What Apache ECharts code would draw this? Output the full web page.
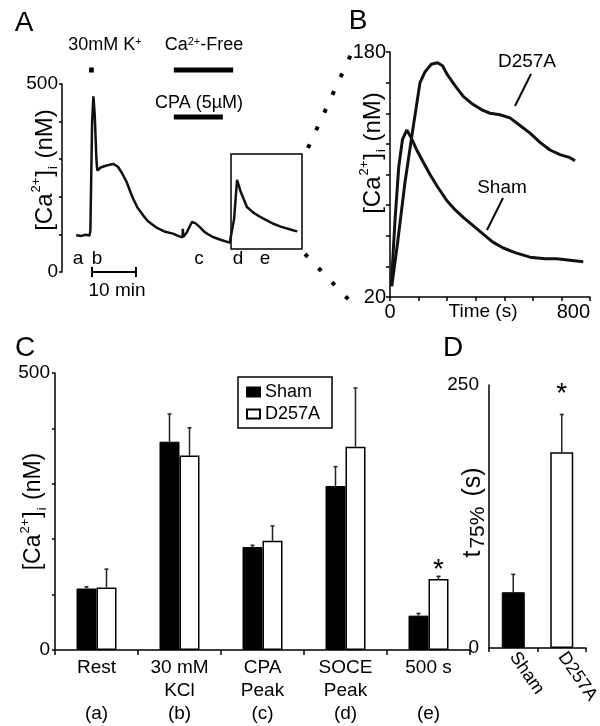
<!DOCTYPE html>
<html lang="en">
<head>
<meta charset="UTF-8">
<title>[Ca2+]i in Sham and D257A cells</title>
<style>
  body { margin: 0; background: #fff; }
  #chart { width: 600px; height: 726px; }
</style>
<script src="https://cdn.jsdelivr.net/npm/echarts@6/dist/echarts.min.js"></script>
</head>
<body>
<div id="chart"></div>
<script>
// Panel A: representative trace (time in min, [Ca2+]i in nM)
var traceTime = [3.3, 4.5, 5.5, 6.4, 6.6, 7.0, 7.3, 7.6, 8.0, 8.2, 9, 10, 11, 12, 13, 14, 15, 16, 16.5, 17.5,
                 18.9, 20, 22, 24, 25.8, 27, 28, 28.1, 28.2, 29, 30.2, 31, 32, 33, 34, 35.1, 37, 39, 39.3, 40,
                 40.7, 41.5, 43, 44.5, 46, 47.5, 49, 51, 53.7, 54.7];
var traceCa = [98, 96, 99, 97, 110, 400, 467, 420, 300, 270, 278, 282, 285, 287, 280, 262, 240, 210, 196, 172,
               150, 135, 118, 107, 102, 96, 92, 115, 93, 105, 133, 130, 120, 108, 100, 93, 85, 78, 76, 140,
               245, 215, 173, 158, 147, 138, 129, 120, 111, 108];
// treatment periods (min)
var kPeriod = [6.3, 7.4];
var caFreePeriod = [26.0, 39.8];
var cpaPeriod = [26.0, 37.4];
// zoomed region shown in B
var boxTime = [39.3, 55.8];
var boxCa = [61, 314];

// Panel B: SOCE decay (time in s, nM)
var d257T = [7, 30, 60, 90, 120, 140, 165, 190, 210, 230, 260, 293, 330, 370, 400, 440, 480, 520, 560, 600, 640, 680, 720, 740];
var d257Ca = [27, 55, 95, 128, 160, 167, 172, 173, 171, 165, 158, 151, 146, 142, 140, 139, 137, 132, 127, 121, 116, 113, 111, 109];
var shamT = [5, 20, 35, 50, 67, 85, 107, 130, 160, 190, 227, 260, 293, 330, 373, 410, 453, 500, 560, 620, 667, 720, 773];
var shamCa = [27, 70, 105, 123, 129, 124, 116, 109, 100, 92, 83, 77, 72, 67, 61, 56, 52, 49, 46, 45, 45, 44, 43];

// Panel C: mean [Ca2+]i (nM) with SEM
var catC = ['Rest', '30 mM\nKCl', 'CPA\nPeak', 'SOCE\nPeak', '500 s'];
var stepC = ['(a)', '(b)', '(c)', '(d)', '(e)'];
var shamC = [111, 376, 186, 296, 62];
var shamErrC = [3, 50, 3, 35, 4];
var d257C = [113, 351, 197, 367, 128];
var d257ErrC = [33, 50, 27, 106, 5];
var starC = [false, false, false, false, true];

// Panel D: t75% (s)
var catD = ['Sham', 'D257A'];
var t75 = [53, 186];
var t75Err = [17, 36];
var starD = [false, true];

var FONT = '"Liberation Sans", Arial, sans-serif';
var chart = echarts.init(document.getElementById('chart'));

var caRich = {
  sup: { fontSize: 13, verticalAlign: 'top', lineHeight: 13, padding: [0, 1, 0, 1], fontFamily: FONT },
  sub: { fontSize: 13, verticalAlign: 'bottom', lineHeight: 13, padding: [0, 1, 0, 1], fontFamily: FONT }
};
var caName = '[Ca{sup|2+}]{sub|i} (nM)';

function axisLine() { return { show: true, lineStyle: { color: '#000', width: 1.5 } }; }
function axisTick(len) { return { show: true, length: len, lineStyle: { color: '#000', width: 1.5 } }; }
function onlyEnds(lo, hi) {
  return function (v) { return (Math.abs(v - lo) < 1 || Math.abs(v - hi) < 1) ? String(Math.round(v)) : ''; };
}

function errorSeries(name, xi, yi, vals, errs, offset, stars, starGap) {
  return {
    name: name, type: 'custom', xAxisIndex: xi, yAxisIndex: yi, silent: true, z: 3,
    data: vals.map(function (v, i) { return [i, v, errs[i]]; }),
    renderItem: function (params, api) {
      var base = api.coord([api.value(0), api.value(1)]);
      var top = api.coord([api.value(0), api.value(1) + api.value(2)]);
      var x = base[0] + offset;
      var kids = [
        { type: 'line', shape: { x1: x, y1: base[1], x2: x, y2: top[1] }, style: { stroke: '#222', lineWidth: 1.5 } },
        { type: 'line', shape: { x1: x - 2, y1: top[1], x2: x + 2, y2: top[1] }, style: { stroke: '#222', lineWidth: 1.5 } }
      ];
      if (stars[params.dataIndex]) {
        kids.push({ type: 'text', x: x, y: top[1] - starGap,
          style: { text: '*', fontSize: 28, fontFamily: FONT, fill: '#000', align: 'center', verticalAlign: 'middle' } });
      }
      return { type: 'group', children: kids };
    }
  };
}

function txt(x, y, s, size, extra) {
  var st = { text: s, fontSize: size, fontFamily: FONT, fill: '#000', align: 'center', verticalAlign: 'middle' };
  if (extra) for (var k in extra) st[k] = extra[k];
  return { type: 'text', x: x, y: y, style: st, silent: true };
}
function seg(x1, y1, x2, y2, w, dash) {
  var st = { stroke: '#000', lineWidth: w };
  if (dash) st.lineDash = dash;
  return { type: 'line', shape: { x1: x1, y1: y1, x2: x2, y2: y2 }, style: st, silent: true };
}

var supRich = { sup: { fontSize: 11, verticalAlign: 'top', lineHeight: 11, fontFamily: FONT } };

var option = {
  animation: false,
  backgroundColor: '#fff',
  textStyle: { fontFamily: FONT, color: '#000' },
  grid: [
    { left: 62, top: 84, width: 243, height: 188, outerBoundsMode: 'none' },
    { left: 390, top: 52, width: 200, height: 245, outerBoundsMode: 'none' },
    { left: 55, top: 373, width: 415, height: 277, outerBoundsMode: 'none' },
    { left: 489, top: 385, width: 97, height: 263, outerBoundsMode: 'none' }
  ],
  legend: {
    data: ['Sham', 'D257A'],
    orient: 'vertical', left: 238, top: 377,
    borderColor: '#000', borderWidth: 1.5, padding: [6, 12, 5, 8], itemGap: 4,
    itemWidth: 13, itemHeight: 9, icon: 'rect',
    textStyle: { fontSize: 18, color: '#000', fontFamily: FONT }
  },
  xAxis: [
    { gridIndex: 0, type: 'value', min: 0, max: 56.5, show: false },
    { gridIndex: 1, type: 'value', min: 0, max: 800, interval: 800 / 7,
      axisLine: axisLine(), axisTick: axisTick(4), splitLine: { show: false },
      axisLabel: { color: '#000', fontSize: 20, margin: 5, alignMaxLabel: 'right', formatter: onlyEnds(0, 800) },
      name: 'Time (s)', nameLocation: 'middle', nameGap: 5, nameMoveOverlap: false,
      nameTextStyle: { fontSize: 19, color: '#000', verticalAlign: 'top', padding: [0, 14, 0, 0] } },
    { gridIndex: 2, type: 'category', data: catC,
      axisLine: axisLine(), axisTick: { show: true, alignWithLabel: false, length: 5, lineStyle: { color: '#000', width: 1.5 } },
      axisLabel: { color: '#000', fontSize: 19, lineHeight: 23, margin: 6, interval: 0 } },
    { gridIndex: 2, type: 'category', data: stepC, position: 'bottom', offset: 48,
      axisLine: { show: false }, axisTick: { show: false },
      axisLabel: { color: '#000', fontSize: 19, interval: 0, margin: 6 } },
    { gridIndex: 3, type: 'category', data: catD,
      axisLine: axisLine(), axisTick: { show: true, alignWithLabel: false, length: 4, lineStyle: { color: '#000', width: 1.5 } },
      axisLabel: { color: '#000', fontSize: 18, rotate: -55, margin: 6, interval: 0 } }
  ],
  yAxis: [
    { gridIndex: 0, type: 'value', min: 0, max: 500, interval: 100,
      axisLine: axisLine(), axisTick: axisTick(3), splitLine: { show: false },
      axisLabel: { color: '#000', fontSize: 19, margin: 4, formatter: onlyEnds(0, 500) },
      name: caName, nameLocation: 'middle', nameRotate: 90, nameGap: 2, nameMoveOverlap: false,
      nameTextStyle: { fontSize: 24, lineHeight: 30, color: '#000', padding: [0, 0, 0, 16], rich: caRich } },
    { gridIndex: 1, type: 'value', min: 20, max: 180, interval: 20,
      axisLine: axisLine(), axisTick: axisTick(4), splitLine: { show: false },
      axisLabel: { color: '#000', fontSize: 20, margin: 4, formatter: onlyEnds(20, 180) },
      name: caName, nameLocation: 'middle', nameRotate: 90, nameGap: 2, nameMoveOverlap: false,
      nameTextStyle: { fontSize: 24, lineHeight: 30, color: '#000', padding: [0, 0, 0, 43], rich: caRich } },
    { gridIndex: 2, type: 'value', min: 0, max: 500, interval: 100,
      axisLine: axisLine(), axisTick: axisTick(3), splitLine: { show: false },
      axisLabel: { color: '#000', fontSize: 19, margin: 5, formatter: onlyEnds(0, 500) },
      name: caName, nameLocation: 'middle', nameRotate: 90, nameGap: 6, nameMoveOverlap: false,
      nameTextStyle: { fontSize: 23, lineHeight: 30, color: '#000', rich: caRich } },
    { gridIndex: 3, type: 'value', min: 0, max: 250, interval: 250,
      axisLine: axisLine(), axisTick: { show: false }, splitLine: { show: false },
      axisLabel: { color: '#000', fontSize: 19, margin: 10 },
      name: 't{sub|75%} (s)', nameLocation: 'middle', nameRotate: 90, nameGap: 0, nameMoveOverlap: false,
      nameTextStyle: { fontSize: 25, lineHeight: 32, color: '#000', padding: [0, 0, 0, 8],
        rich: { sub: { fontSize: 21, verticalAlign: 'bottom', lineHeight: 20, padding: [0, 3, 0, 2], fontFamily: FONT } } } }
  ],
  series: [
    // A: trace + zoom box
    { name: 'trace', type: 'line', xAxisIndex: 0, yAxisIndex: 0, symbol: 'none', silent: true,
      data: traceTime.map(function (t, i) { return [t, traceCa[i]]; }),
      lineStyle: { color: '#111', width: 2.5 },
      markArea: { silent: true, itemStyle: { color: 'rgba(0,0,0,0)', borderColor: '#000', borderWidth: 1.5 },
        data: [[{ coord: [boxTime[0], boxCa[0]] }, { coord: [boxTime[1], boxCa[1]] }]] } },
    // A: treatment bars
    { name: 'K', type: 'line', xAxisIndex: 0, yAxisIndex: 0, symbol: 'none', silent: true, clip: false,
      data: [[kPeriod[0], 537], [kPeriod[1], 537]], lineStyle: { color: '#000', width: 5 } },
    { name: 'CaFree', type: 'line', xAxisIndex: 0, yAxisIndex: 0, symbol: 'none', silent: true, clip: false,
      data: [[caFreePeriod[0], 537], [caFreePeriod[1], 537]], lineStyle: { color: '#000', width: 5 } },
    { name: 'CPA', type: 'line', xAxisIndex: 0, yAxisIndex: 0, symbol: 'none', silent: true, clip: false,
      data: [[cpaPeriod[0], 412], [cpaPeriod[1], 412]], lineStyle: { color: '#000', width: 5 } },
    // B
    { name: 'D257A trace', type: 'line', xAxisIndex: 1, yAxisIndex: 1, symbol: 'none', silent: true,
      data: d257T.map(function (t, i) { return [t, d257Ca[i]]; }), lineStyle: { color: '#111', width: 3 } },
    { name: 'Sham trace', type: 'line', xAxisIndex: 1, yAxisIndex: 1, symbol: 'none', silent: true,
      data: shamT.map(function (t, i) { return [t, shamCa[i]]; }), lineStyle: { color: '#111', width: 3 } },
    // C
    { name: 'Sham', type: 'bar', xAxisIndex: 2, yAxisIndex: 2, data: shamC, barWidth: 20, barGap: '0%',
      itemStyle: { color: '#000', borderColor: '#000', borderWidth: 1 } },
    { name: 'D257A', type: 'bar', xAxisIndex: 2, yAxisIndex: 2, data: d257C, barWidth: 20, barGap: '0%',
      itemStyle: { color: '#fff', borderColor: '#000', borderWidth: 1.5 } },
    errorSeries('Sham err', 2, 2, shamC, shamErrC, -10, [false, false, false, false, false], 0),
    errorSeries('D257A err', 2, 2, d257C, d257ErrC, 10, starC, 6),
    // D
    { name: 't75', type: 'bar', xAxisIndex: 4, yAxisIndex: 3, barWidth: 23,
      data: t75.map(function (v, i) {
        return { value: v, itemStyle: i === 0 ? { color: '#000', borderColor: '#000', borderWidth: 1 }
                                              : { color: '#fff', borderColor: '#000', borderWidth: 1.5 } };
      }) },
    errorSeries('t75 err', 4, 3, t75, t75Err, 0, starD, 20)
  ],
  graphic: [
    txt(24, 23, 'A', 28), txt(358, 21, 'B', 28), txt(25, 348, 'C', 28), txt(453, 348, 'D', 28),
    txt(105, 45, '30mM K{sup|+}', 18, { rich: supRich }),
    txt(204, 45, 'Ca{sup|2+}-Free', 18, { rich: supRich }),
    txt(199, 103, 'CPA (5\u00b5M)', 18),
    txt(78, 259, 'a', 19), txt(97, 259, 'b', 19), txt(199, 259, 'c', 19), txt(238, 259, 'd', 19), txt(265, 259, 'e', 19),
    seg(92, 272, 136, 272, 2), seg(92, 267, 92, 277, 2), seg(136, 267, 136, 277, 2),
    txt(117, 291, '10 min', 19),
    seg(308, 148, 353, 50, 4, [4, 15.5]),
    seg(305, 254, 349, 300, 4, [4, 15.5]),
    txt(527, 62, 'D257A', 19), seg(531, 74, 515, 106, 2),
    txt(502, 188, 'Sham', 19), seg(503, 198, 487, 230, 2)
  ]
};
chart.setOption(option);
</script>
</body>
</html>
